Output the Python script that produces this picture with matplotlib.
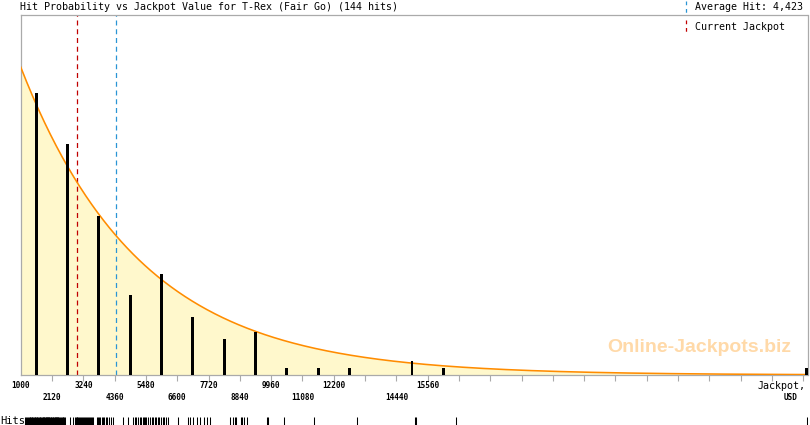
import numpy as np
import matplotlib
matplotlib.use('Agg')
import matplotlib.pyplot as plt

# jackpot hits (USD)
hits = [1160, 1190, 1230, 1260, 1290, 1320, 1350, 1380, 1400, 1420,
        1450, 1480, 1500, 1520, 1550, 1580, 1600, 1620, 1650, 1680,
        1700, 1720, 1750, 1780, 1800, 1820, 1850, 1870, 1890, 1910,
        1930, 1950, 1970, 1990, 2010, 2030, 2050, 2080, 2100,
        2130, 2150, 2170, 2190, 2210, 2230, 2250, 2270, 2290, 2310,
        2330, 2350, 2380, 2410, 2440, 2470, 2500, 2530, 2560, 2590,
        2760, 2870, 2950, 2980, 3000, 3030, 3060, 3090, 3120, 3150, 3180, 3220,
        3250, 3290, 3330, 3360, 3400, 3430, 3470, 3500, 3540, 3580,
        3720, 3770, 3810, 3850, 3900, 3940, 3990, 4040, 4100, 4160, 4230, 4300,
        4660, 4840, 5020, 5080, 5140, 5200, 5260, 5310, 5360, 5410, 5460,
        5500, 5560, 5620, 5680, 5740, 5800, 5850, 5900, 5960, 6020,
        6080, 6140, 6200, 6260,
        6640, 6990, 7050, 7180, 7300, 7420, 7550, 7680,
        7770, 8500, 8580, 8650, 8720,
        8870, 8930, 9000, 9080, 9800, 9830,
        10420, 11500, 13040, 15100, 15130, 16560, 29120]

bin_start = 1000
bin_step = 1120
n_bins = 25
x_max = 29150
current_jackpot = 3025
average_hit = 4423
curve_peak = 42.6
curve_scale = 4300
y_max = 49.8

# tick labels, upper and lower row
labels_row1 = [1000, 3240, 5480, 7720, 9960, 12200, 15560]
labels_row2 = [2120, 4360, 6600, 8840, 11080, 14440]

edges = bin_start + bin_step * np.arange(n_bins + 1)
counts, _ = np.histogram(hits, bins=edges)
centers = edges[:-1] + bin_step / 2
overflow = [h for h in hits if h > edges[-1]]

W, H = 810, 425
fig = plt.figure(figsize=(W / 100, H / 100), dpi=100)
ax = fig.add_axes([20.7 / W, 1 - 375 / H, (807.5 - 20.7) / W, 360 / H])

gray = '#aaaaaa'
mono = 'DejaVu Sans Mono'

# fitted curve + fill
xs = np.linspace(bin_start, x_max, 800)
ys = curve_peak * np.exp(-(xs - bin_start) / curve_scale)
ax.fill_between(xs, 0, ys, color='#fff8cc', lw=0, zorder=1)
ax.plot(xs, ys, color='#ff8c00', lw=1.15, zorder=3)

# hit bars
mask = counts > 0
ax.bar(centers[mask], counts[mask], width=105, color='black', zorder=4)
for v in overflow:
    ax.bar(v, 1, width=105, color='black', zorder=4)

ax.axvline(current_jackpot, color='#c00000', lw=0.9, ls=(0, (4, 3)), zorder=2)
ax.axvline(average_hit, color='#2a95d5', lw=0.9, ls=(0, (4, 3)), zorder=2)

ax.text(0.863, 0.075, 'Online-Jackpots.biz', transform=ax.transAxes, ha='center', va='center',
        fontsize=14, fontweight='bold', family='Liberation Sans', color='#ffd9a8', zorder=0)

ax.set_xlim(bin_start, x_max)
ax.set_ylim(0, y_max)
ax.set_yticks([])
ax.set_xticks(edges[1:])
ax.set_xticklabels([])
ax.tick_params(axis='x', direction='out', length=4, width=0.8, color=gray)
for s in ax.spines.values():
    s.set_color(gray)
    s.set_linewidth(0.9)

for row, off in ((labels_row1, -11), (labels_row2, -23)):
    for v in row:
        ax.annotate(str(v), xy=(v, 0), xycoords=('data', 'axes fraction'), xytext=(0, off),
                    textcoords='offset pixels', ha='center', va='center', fontsize=5.6,
                    family=mono, fontweight='bold')

ax.annotate('Jackpot,', xy=(1, 0), xycoords='axes fraction', xytext=(-2, -11),
            textcoords='offset pixels', ha='right', va='center', fontsize=7.2, family=mono)
ax.annotate('USD', xy=(1, 0), xycoords='axes fraction', xytext=(-10, -23),
            textcoords='offset pixels', ha='right', va='center', fontsize=5.6,
            family=mono, fontweight='bold')

# title and legend
fig.text(20 / W, 1 - 7 / H, 'Hit Probability vs Jackpot Value for T-Rex (Fair Go) (144 hits)',
         ha='left', va='center', fontsize=7.2, family=mono)
fig.text(695 / W, 1 - 7 / H, 'Average Hit: 4,423', ha='left', va='center', fontsize=7.2, family=mono)
fig.text(695 / W, 1 - 27 / H, 'Current Jackpot', ha='left', va='center', fontsize=7.2, family=mono)
fig.add_artist(plt.Line2D([686 / W, 686 / W], [1 - 1 / H, 1 - 13 / H], color='#2a95d5',
                          lw=0.9, ls=(0, (3, 3))))
fig.add_artist(plt.Line2D([686 / W, 686 / W], [1 - 20 / H, 1 - 33 / H], color='#c00000',
                          lw=0.9, ls=(0, (3, 3))))

# rug of hits
rug = fig.add_axes([20.7 / W, 0, (807.5 - 20.7) / W, 8 / H])
rug.vlines(hits, 0, 1, color='black', lw=0.75)
rug.set_xlim(bin_start, x_max)
rug.set_ylim(0, 1)
rug.axis('off')
fig.text(0, 1 - 421 / H, 'Hits:', ha='left', va='center', fontsize=7.5, family=mono)

fig.savefig('out.png', dpi=100)
